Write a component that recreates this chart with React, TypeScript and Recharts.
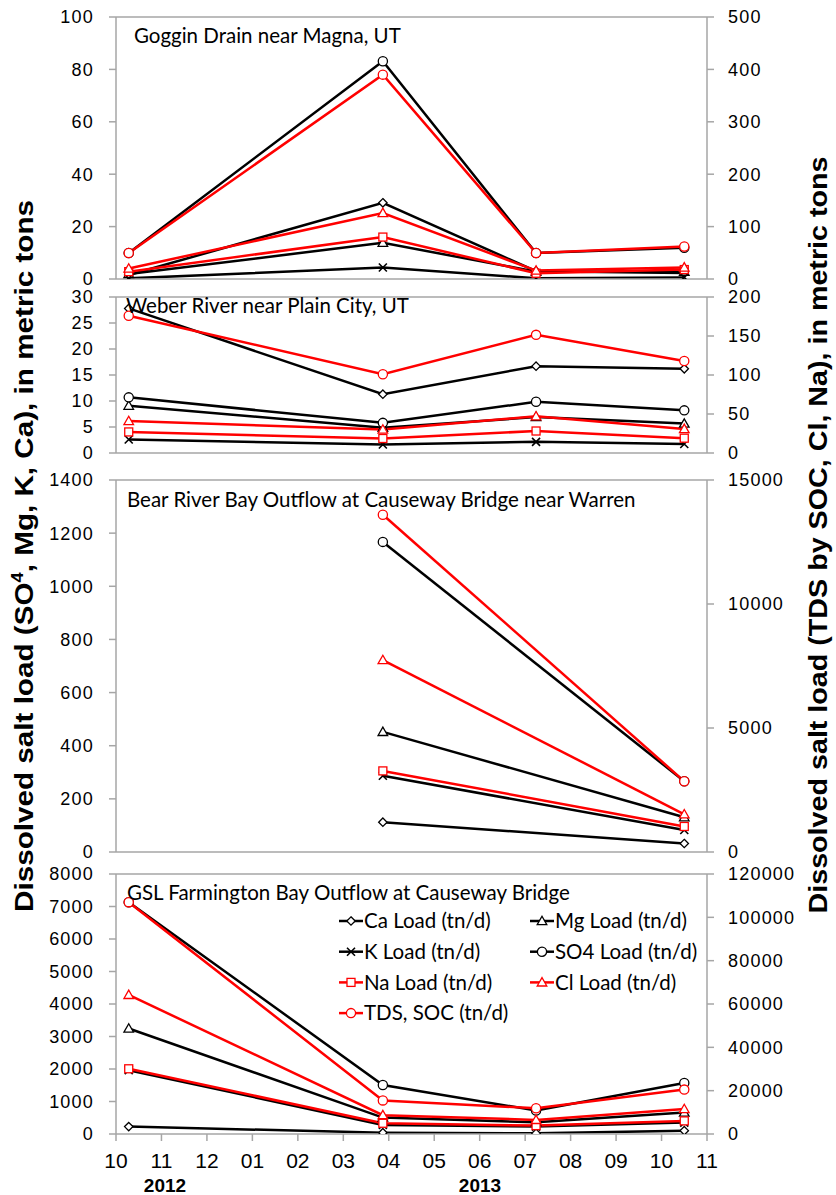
import React from 'react';
import { LineChart, Line, XAxis, YAxis } from 'recharts';

// ---------- shared x (months since Oct 1, 2012) ----------
const monthTicks = [0, 1, 2, 3, 4, 5, 6, 7, 8, 9, 10, 11, 12, 13];
const monthLabels = ['10', '11', '12', '01', '02', '03', '04', '05', '06', '07', '08', '09', '10', '11'];
const sampleX = [0.28, 5.87, 9.24, 12.5];

// ---------- Panel 1: Goggin Drain near Magna, UT ----------
const gogginCa = [1.5, 29.1, 3.0, 2.3];
const gogginMg = [1.9, 13.8, 2.8, 2.8];
const gogginK = [0.25, 4.4, 0.25, 0.6];
const gogginSO4 = [9.9, 83.1, 9.9, 11.9];
const gogginNa = [14, 80, 11, 18];
const gogginCl = [20, 126, 16, 22];
const gogginTDS = [49.5, 390, 49.5, 62];

// ---------- Panel 2: Weber River near Plain City, UT ----------
const weberCa = [27.8, 11.3, 16.7, 16.2];
const weberMg = [9.1, 4.85, 6.9, 5.65];
const weberK = [2.6, 1.64, 2.14, 1.72];
const weberSO4 = [10.7, 5.8, 9.85, 8.2];
const weberNa = [27, 18.6, 28.2, 19];
const weberCl = [41, 30, 47, 30.8];
const weberTDS = [176, 101, 151.5, 118];

// ---------- Panel 3: Bear River Bay Outflow ----------
const bearCa = [null, 112, null, 32];
const bearMg = [null, 452, null, 131];
const bearK = [null, 287, null, 83];
const bearSO4 = [null, 1167, null, 266];
const bearNa = [null, 3270, null, 1030];
const bearCl = [null, 7740, null, 1520];
const bearTDS = [null, 13600, null, 2850];

// ---------- Panel 4: GSL Farmington Bay Outflow ----------
const farmCa = [227, 41, 21, 103];
const farmMg = [3245, 506, 362, 662];
const farmK = [1964, 279, 227, 351];
const farmSO4 = [7132, 1509, 723, 1571];
const farmNa = [30100, 4960, 3870, 6050];
const farmCl = [64200, 8700, 6500, 11500];
const farmTDS = [107000, 15500, 11900, 20500];

// ---------- series definitions ----------
const seriesDefs = [
  { key: 'Ca', name: 'Ca Load (tn/d)', color: '#000000', shape: 'diamond', axis: 'L' },
  { key: 'Mg', name: 'Mg Load (tn/d)', color: '#000000', shape: 'triangle', axis: 'L' },
  { key: 'K', name: 'K Load (tn/d)', color: '#000000', shape: 'x', axis: 'L' },
  { key: 'SO4', name: 'SO4 Load (tn/d)', color: '#000000', shape: 'circle', axis: 'L' },
  { key: 'Na', name: 'Na Load (tn/d)', color: '#ff0000', shape: 'square', axis: 'R' },
  { key: 'Cl', name: 'Cl Load (tn/d)', color: '#ff0000', shape: 'triangle', axis: 'R' },
  { key: 'TDS', name: 'TDS, SOC (tn/d)', color: '#ff0000', shape: 'circle', axis: 'R' },
];

function buildRows(cols: Record<string, (number | null)[]>) {
  return sampleX.map((x, i) => {
    const row: Record<string, number | null> = { x };
    Object.keys(cols).forEach((k) => {
      row[k] = cols[k][i];
    });
    return row;
  });
}

const panels = [
  {
    title: 'Goggin Drain near Magna, UT',
    top: 17, bottom: 279,
    leftTicks: [0, 20, 40, 60, 80, 100],
    rightTicks: [0, 100, 200, 300, 400, 500],
    data: buildRows({ Ca: gogginCa, Mg: gogginMg, K: gogginK, SO4: gogginSO4, Na: gogginNa, Cl: gogginCl, TDS: gogginTDS }),
    titleX: 134, titleY: 43,
  },
  {
    title: 'Weber River near Plain City, UT',
    top: 297, bottom: 453,
    leftTicks: [0, 5, 10, 15, 20, 25, 30],
    rightTicks: [0, 50, 100, 150, 200],
    data: buildRows({ Ca: weberCa, Mg: weberMg, K: weberK, SO4: weberSO4, Na: weberNa, Cl: weberCl, TDS: weberTDS }),
    titleX: 126, titleY: 313,
  },
  {
    title: 'Bear River Bay Outflow at Causeway Bridge near Warren',
    top: 480, bottom: 852,
    leftTicks: [0, 200, 400, 600, 800, 1000, 1200, 1400],
    rightTicks: [0, 5000, 10000, 15000],
    data: buildRows({ Ca: bearCa, Mg: bearMg, K: bearK, SO4: bearSO4, Na: bearNa, Cl: bearCl, TDS: bearTDS }),
    titleX: 127, titleY: 507,
  },
  {
    title: 'GSL Farmington Bay Outflow at Causeway Bridge',
    top: 874, bottom: 1134,
    leftTicks: [0, 1000, 2000, 3000, 4000, 5000, 6000, 7000, 8000],
    rightTicks: [0, 20000, 40000, 60000, 80000, 100000, 120000],
    data: buildRows({ Ca: farmCa, Mg: farmMg, K: farmK, SO4: farmSO4, Na: farmNa, Cl: farmCl, TDS: farmTDS }),
    titleX: 127, titleY: 900,
  },
];

const AXIS_GRAY = '#a6a6a6';
const TICK_FONT = '"Liberation Sans", Arial, Helvetica, sans-serif';
const TITLE_FONT = 'Lato, "Open Sans", sans-serif';
const TITLE_SIZE = 20.5;

function MarkerShape({ shape, color, cx, cy }: { shape: string; color: string; cx: number; cy: number }) {
  const sw = 1.3;
  if (shape === 'diamond') {
    const s = 4.2;
    return <path d={`M${cx},${cy - s}L${cx + s},${cy}L${cx},${cy + s}L${cx - s},${cy}Z`} fill="#fff" stroke={color} strokeWidth={sw} />;
  }
  if (shape === 'triangle') {
    const s = 4.8;
    return <path d={`M${cx},${cy - s}L${cx + s},${cy + s * 0.75}L${cx - s},${cy + s * 0.75}Z`} fill="#fff" stroke={color} strokeWidth={sw} />;
  }
  if (shape === 'square') {
    const s = 4;
    return <rect x={cx - s} y={cy - s} width={2 * s} height={2 * s} fill="#fff" stroke={color} strokeWidth={sw} />;
  }
  if (shape === 'x') {
    const s = 4;
    return <path d={`M${cx - s},${cy - s}L${cx + s},${cy + s}M${cx - s},${cy + s}L${cx + s},${cy - s}`} fill="none" stroke={color} strokeWidth={sw + 0.3} />;
  }
  return <circle cx={cx} cy={cy} r={4.6} fill="#fff" stroke={color} strokeWidth={sw} />;
}

const makeDot = (shape: string, color: string) => (props: any) => {
  const { cx, cy, index, value } = props;
  if (cx == null || cy == null || value == null || (Array.isArray(value) && value[1] == null)) {
    return <g key={`d-${index}`} />;
  }
  return (
    <g key={`d-${index}`}>
      <MarkerShape shape={shape} color={color} cx={cx} cy={cy} />
    </g>
  );
};

function LegendGroup({ x, y }: { x: number; y: number }) {
  const rows = [
    [seriesDefs[0], seriesDefs[1]],
    [seriesDefs[2], seriesDefs[3]],
    [seriesDefs[4], seriesDefs[5]],
    [seriesDefs[6], null],
  ];
  const colX = [0, 191];
  const rowH = 30.7;
  return (
    <g transform={`translate(${x}, ${y})`}>
      {rows.map((r, ri) =>
        r.map((s, ci) =>
          s ? (
            <g key={`${ri}-${ci}`} transform={`translate(${colX[ci]}, ${ri * rowH})`}>
              <line x1={0} y1={0} x2={24} y2={0} stroke={s.color} strokeWidth={2.5} />
              <MarkerShape shape={s.shape} color={s.color} cx={12} cy={0} />
              <text x={25} y={0} dy="0.36em" fontFamily={TITLE_FONT} fontSize={TITLE_SIZE} fill="#000">
                {s.name}
              </text>
            </g>
          ) : null
        )
      )}
    </g>
  );
}

function Panel({ p, idx }: { p: any; idx: number }) {
  const pad = 12;
  const isLast = idx === panels.length - 1;
  const bottomPad = isLast ? 1195 - p.bottom : pad;
  const bottomAxisH = isLast ? 40 : 2;
  const topAxisH = 2;
  const height = p.bottom - p.top + pad + bottomPad;
  const leftMax = p.leftTicks[p.leftTicks.length - 1];
  const rightMax = p.rightTicks[p.rightTicks.length - 1];
  const connect = idx === 2;
  return (
    <div style={{ position: 'absolute', left: 0, top: p.top - pad, width: 836, height }}>
      <LineChart
        width={836}
        height={height}
        data={p.data}
        margin={{ top: pad - topAxisH, right: 0, bottom: bottomPad - bottomAxisH, left: 0 }}
      >
        <XAxis
          xAxisId="b"
          dataKey="x"
          type="number"
          domain={[0, 13]}
          ticks={monthTicks}
          allowDataOverflow
          height={bottomAxisH}
          stroke={AXIS_GRAY}
          strokeWidth={1.5}
          tickSize={7}
          tickMargin={12}
          tickLine={{ stroke: AXIS_GRAY, strokeWidth: 1.5 }}
          tick={isLast ? { fill: '#000', fontSize: 21, fontFamily: TICK_FONT } : false}
          tickFormatter={(v: number) => monthLabels[v]}
          interval={0}
        />
        <XAxis
          xAxisId="t"
          orientation="top"
          dataKey="x"
          type="number"
          domain={[0, 13]}
          ticks={monthTicks}
          allowDataOverflow
          height={topAxisH}
          stroke={AXIS_GRAY}
          strokeWidth={1.5}
          tickSize={7}
          tickLine={{ stroke: AXIS_GRAY, strokeWidth: 1.5 }}
          tick={false}
          interval={0}
        />
        <YAxis
          yAxisId="L"
          width={116}
          domain={[0, leftMax]}
          ticks={p.leftTicks}
          allowDataOverflow
          stroke={AXIS_GRAY}
          strokeWidth={1.5}
          tickSize={7}
          tickMargin={15}
          tickLine={{ stroke: AXIS_GRAY, strokeWidth: 1.5 }}
          tick={{ fill: '#000', fontSize: 18, fontFamily: TICK_FONT, letterSpacing: 1.2 }}
          interval={0}
        />
        <YAxis
          yAxisId="R"
          orientation="right"
          width={129}
          domain={[0, rightMax]}
          ticks={p.rightTicks}
          allowDataOverflow
          stroke={AXIS_GRAY}
          strokeWidth={1.5}
          tickSize={7}
          tickMargin={14}
          tickLine={{ stroke: AXIS_GRAY, strokeWidth: 1.5 }}
          tick={{ fill: '#000', fontSize: 18, fontFamily: TICK_FONT, letterSpacing: 1.2 }}
          interval={0}
        />
        {seriesDefs.map((s) => (
          <Line
            key={s.key}
            xAxisId="b"
            yAxisId={s.axis}
            dataKey={s.key}
            name={s.name}
            type="linear"
            stroke={s.color}
            strokeWidth={2.5}
            dot={makeDot(s.shape, s.color)}
            activeDot={false}
            connectNulls={connect}
            isAnimationActive={false}
          />
        ))}
      </LineChart>
    </div>
  );
}

export default function App() {
  return (
    <div style={{ position: 'absolute', left: 0, top: 0, width: 836, height: 1195, background: '#fff', overflow: 'hidden' }}>
      {panels.map((p, i) => (
        <Panel key={i} p={p} idx={i} />
      ))}
      <svg width={836} height={1195} style={{ position: 'absolute', left: 0, top: 0, pointerEvents: 'none' }}>
        {panels.map((p, i) => (
          <text key={i} x={p.titleX} y={p.titleY} fontFamily={TITLE_FONT} fontSize={TITLE_SIZE} fill="#000">
            {p.title}
          </text>
        ))}
        <LegendGroup x={339} y={921} />
        <text x={165} y={1192} textAnchor="middle" fontFamily={TICK_FONT} fontWeight="bold" fontSize={19}>2012</text>
        <text x={480} y={1192} textAnchor="middle" fontFamily={TICK_FONT} fontWeight="bold" fontSize={19}>2013</text>
        <text
          transform="translate(33, 556) rotate(-90)"
          textAnchor="middle"
          fontFamily={TICK_FONT}
          fontWeight="bold"
          fontSize={26}
          textLength={712}
          lengthAdjust="spacingAndGlyphs"
        >
          Dissolved salt load (SO<tspan dy={-10} fontSize={16}>4</tspan><tspan dy={10}>, Mg, K, Ca), in metric tons</tspan>
        </text>
        <text
          transform="translate(827, 535) rotate(-90)"
          textAnchor="middle"
          fontFamily={TICK_FONT}
          fontWeight="bold"
          fontSize={26}
          textLength={757}
          lengthAdjust="spacingAndGlyphs"
        >
          Dissolved salt load (TDS by SOC, Cl, Na), in metric tons
        </text>
      </svg>
    </div>
  );
}
